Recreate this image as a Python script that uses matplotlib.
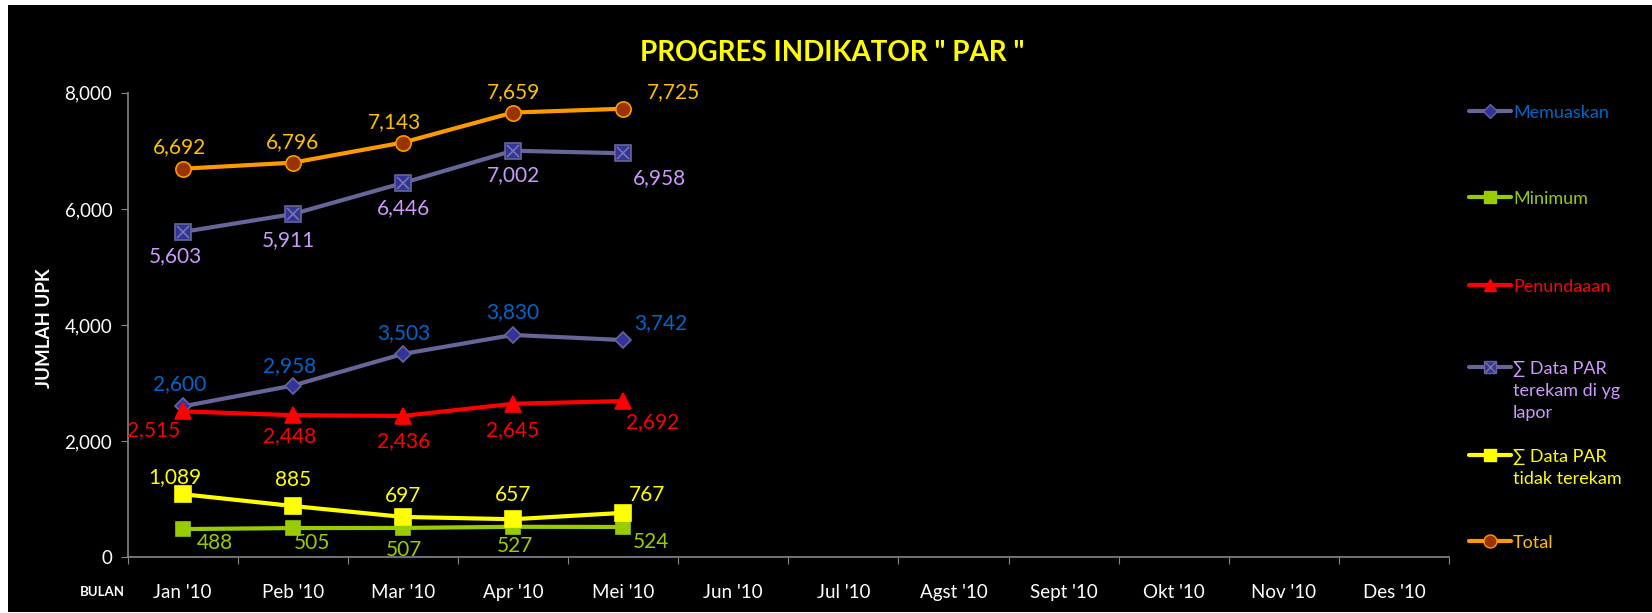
import matplotlib
matplotlib.use("Agg")
import matplotlib.pyplot as plt
from matplotlib.lines import Line2D
from matplotlib.patches import Rectangle

plt.rcParams['font.family'] = ['Lato', 'DejaVu Sans']

# ---------------------------------------------------------------------------
# data
# ---------------------------------------------------------------------------
months = ["Jan '10", "Peb '10", "Mar '10", "Apr '10", "Mei '10", "Jun '10",
          "Jul '10", "Agst '10", "Sept '10", "Okt '10", "Nov '10", "Des '10"]
memuaskan = [2600, 2958, 3503, 3830, 3742]
minimum = [488, 505, 507, 527, 524]
penundaaan = [2515, 2448, 2436, 2645, 2692]
terekam = [5603, 5911, 6446, 7002, 6958]
tidak_terekam = [1089, 885, 697, 657, 767]
total = [6692, 6796, 7143, 7659, 7725]

series_names = ["Memuaskan", "Minimum", "Penundaaan",
                "\u2211 Data PAR\nterekam di yg\nlapor", "\u2211 Data PAR\ntidak terekam", "Total"]

# style per series: line colour, marker, marker face, marker edge, label colour, label offsets (px)
styles = [
    dict(vals=memuaskan, lc="#666699", m="D", mfc="#333399", mec="#666699", ms=8.5, tc="#0066cc",
         off=[(-3, 22), (-3, 20), (1, 21), (0, 23), (38, 17)]),
    dict(vals=minimum, lc="#99cc00", m="s", mfc="#99cc00", mec="#99cc00", ms=10, tc="#99cc00",
         off=[(32, -14), (19, -15), (1, -22), (2, -19), (28, -15)]),
    dict(vals=penundaaan, lc="#ff0000", m="^", mfc="#ff0000", mec="#ff0000", ms=11, tc="#ff0000",
         off=[(-29, -19), (-3, -21), (1, -25), (0, -26), (29, -21)]),
    dict(vals=terekam, lc="#666699", m="s", mfc="#333399", mec="#666699", ms=11, tc="#cc99ff",
         off=[(-7, -24), (-4, -26), (1, -25), (0, -24), (36, -25)]),
    dict(vals=tidak_terekam, lc="#ffff00", m="s", mfc="#ffff00", mec="#ffff00", ms=11, tc="#ffff00",
         off=[(-8, 17), (0, 26), (0, 21), (0, 24), (24, 18)]),
    dict(vals=total, lc="#ff9900", m="o", mfc="#993300", mec="#ff9900", ms=11, tc="#ffc000",
         off=[(-3, 22), (0, 21), (-8, 20), (0, 20), (50, 17)]),
]

# ---------------------------------------------------------------------------
# figure
# ---------------------------------------------------------------------------
fig = plt.figure(figsize=(16.52, 6.13), dpi=100, facecolor="white")
fig.add_artist(Rectangle((8 / 1652, 1 / 613), 1 - 8 / 1652, 1 - 6 / 613,
                         transform=fig.transFigure, facecolor="black", edgecolor="none", zorder=-10))

ax = fig.add_axes([0.0772, 0.0907, 0.800, 0.758])
ax.set_facecolor("black")
ax.patch.set_alpha(0)

x = list(range(len(months)))
for st in styles:
    xs = x[:len(st["vals"])]
    ax.plot(xs, st["vals"], color=st["lc"], lw=3, marker=st["m"], ms=st["ms"],
            mfc=st["mfc"], mec=st["mec"], mew=1.2, zorder=3, solid_capstyle="round")
    for xi, v, (dx, dy) in zip(xs, st["vals"], st["off"]):
        ax.annotate(f"{v:,}", (xi, v), xytext=(dx, dy), textcoords="offset pixels",
                    ha="center", va="center", color=st["tc"], fontsize=15, zorder=4)
# cross inside the terekam squares
ax.plot(x[:len(terekam)], terekam, ls="none", marker="x", ms=9, mec="#7777aa", mew=1.2, zorder=3.5)

ax.set_xlim(-0.5, len(months) - 0.5)
ax.set_ylim(0, 8000)
ax.set_yticks([0, 2000, 4000, 6000, 8000])
ax.set_yticklabels([f"{v:,}" for v in [0, 2000, 4000, 6000, 8000]])
ax.set_xticks([i - 0.5 for i in range(len(months) + 1)])
ax.set_xticklabels([])
ax.set_xticks(x, minor=True)
ax.set_xticklabels(months, minor=True)
ax.tick_params(axis="x", which="major", length=5, color="#868686", direction="out")
ax.tick_params(axis="x", which="minor", length=0, pad=19, labelcolor="white", labelsize=13.5)
ax.tick_params(axis="y", length=5, color="#868686", labelcolor="white", labelsize=13.5, pad=6)
for s in ["top", "right"]:
    ax.spines[s].set_visible(False)
for s in ["left", "bottom"]:
    ax.spines[s].set_color("#868686")
    ax.spines[s].set_linewidth(1.2)

fig.text(0.5035, 0.913, "PROGRES INDIKATOR \" PAR \"", ha="center", va="center",
         color="#ffff00", fontsize=20, fontweight="bold")
fig.text(0.0272, 0.465, "JUMLAH UPK", rotation=90, ha="center", va="center",
         color="white", fontsize=13.5, fontweight="bold")
fig.text(0.062, 0.034, "BULAN", ha="center", va="center",
         color="white", fontsize=9.5, fontweight="bold")

# legend, drawn by hand to keep Excel's spacing
leg_y = [110.6, 197, 284.5, 367.3, 455, 540.5]
for st, name, ly in zip(styles, series_names, leg_y):
    yf = 1 - ly / 613
    fig.add_artist(Line2D([1468.7 / 1652, 1511 / 1652], [yf, yf], transform=fig.transFigure,
                          color=st["lc"], lw=3, solid_capstyle="round"))
    fig.add_artist(Line2D([1490 / 1652], [yf], transform=fig.transFigure, marker=st["m"],
                          ms=st["ms"] * 0.85, mfc=st["mfc"], mec=st["mec"], mew=1, ls="none"))
    fig.text(1513 / 1652, yf + 6 / 613, name, ha="left", va="top", color=st["tc"],
             fontsize=13, linespacing=1.45)
yf = 1 - leg_y[3] / 613
fig.add_artist(Line2D([1490 / 1652], [yf], transform=fig.transFigure, marker="x",
                      ms=7.5, mec="#7777aa", mew=1, ls="none"))

fig.savefig("out.png", dpi=100, facecolor=fig.get_facecolor())
